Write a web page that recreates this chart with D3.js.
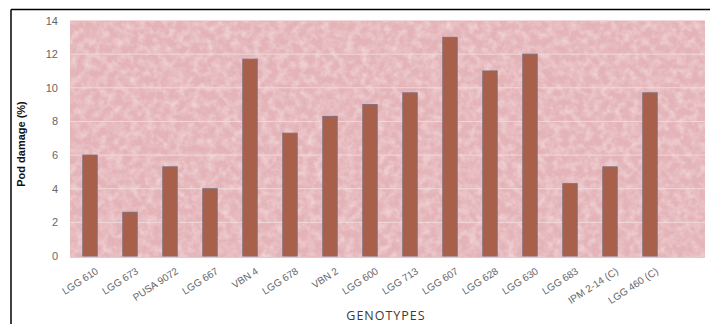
<!DOCTYPE html>
<html>
<head>
<meta charset="utf-8">
<script src="https://cdn.jsdelivr.net/npm/d3@7"></script>
<style>
  html, body { margin: 0; padding: 0; background: #fff; }
  svg { display: block; }
</style>
</head>
<body>
<div id="chart"></div>
<script>
// genotypes and pod damage values
const genotypes = ["LGG 610", "LGG 673", "PUSA 9072", "LGG 667", "VBN 4", "LGG 678", "VBN 2",
  "LGG 600", "LGG 713", "LGG 607", "LGG 628", "LGG 630", "LGG 683", "IPM 2-14 (C)", "LGG 460 (C)"];
const podDamage = [6.0, 2.6, 5.3, 4.0, 11.7, 7.3, 8.3, 9.0, 9.7, 13.0, 11.0, 12.0, 4.3, 5.3, 9.7];
const yTicks = [0, 2, 4, 6, 8, 10, 12, 14];

const W = 710, H = 324;
const plot = { left: 70, right: 705, top: 20, bottom: 257 };

const svg = d3.select("#chart").append("svg")
  .attr("width", W).attr("height", H);

// paper-like texture for the plot area: soft light mottling and fine darker specks
const defs = svg.append("defs");
const lite = defs.append("filter").attr("id", "lite")
  .attr("x", 0).attr("y", 0).attr("width", 1).attr("height", 1);
lite.append("feTurbulence").attr("type", "fractalNoise")
  .attr("baseFrequency", "0.13").attr("numOctaves", 3).attr("seed", 7).attr("result", "n");
lite.append("feColorMatrix").attr("in", "n").attr("type", "matrix")
  .attr("values", "0 0 0 0 0.97  0 0 0 0 0.86  0 0 0 0 0.87  1.1 0 0 0 -0.42").attr("result", "c");
lite.append("feComposite").attr("in", "c").attr("in2", "SourceGraphic").attr("operator", "in");

const dark = defs.append("filter").attr("id", "dark")
  .attr("x", 0).attr("y", 0).attr("width", 1).attr("height", 1);
dark.append("feTurbulence").attr("type", "fractalNoise")
  .attr("baseFrequency", "0.22").attr("numOctaves", 2).attr("seed", 3).attr("result", "n");
dark.append("feColorMatrix").attr("in", "n").attr("type", "matrix")
  .attr("values", "0 0 0 0 0.78  0 0 0 0 0.58  0 0 0 0 0.62  0 1.0 0 0 -0.5").attr("result", "c");
dark.append("feComposite").attr("in", "c").attr("in2", "SourceGraphic").attr("operator", "in");

// outer frame (top and left edges only)
svg.append("line").attr("x1", 11).attr("x2", W).attr("y1", 9.5).attr("y2", 9.5)
  .attr("stroke", "#000").attr("stroke-width", 1.5);
svg.append("line").attr("x1", 11).attr("x2", 11).attr("y1", 9.5).attr("y2", H)
  .attr("stroke", "#000").attr("stroke-width", 1.5);

// plot background
const bg = svg.append("g");
["none", "url(#lite)", "url(#dark)"].forEach(flt => {
  bg.append("rect")
    .attr("x", plot.left).attr("y", plot.top)
    .attr("width", plot.right - plot.left).attr("height", plot.bottom - plot.top)
    .attr("fill", flt === "none" ? "#e4b3b7" : "#fff")
    .attr("filter", flt === "none" ? null : flt);
});

const x = d3.scaleBand().domain(genotypes)
  .range([plot.left, plot.left + 40 * genotypes.length]).paddingInner(0.64).paddingOuter(0.32);
const y = d3.scaleLinear().domain([0, 14]).range([plot.bottom - 1, plot.top + 0.5]);

// gridlines
svg.append("g").selectAll("line").data(yTicks.slice(1)).enter().append("line")
  .attr("x1", plot.left).attr("x2", plot.right)
  .attr("y1", d => y(d)).attr("y2", d => y(d))
  .attr("stroke", "#f2d8da").attr("stroke-width", 1);
svg.append("line").attr("x1", plot.left).attr("x2", plot.right)
  .attr("y1", plot.bottom + 0.5).attr("y2", plot.bottom + 0.5)
  .attr("stroke", "#d9cfd3").attr("stroke-width", 1);

// y axis
const yAxis = svg.append("g")
  .attr("transform", `translate(${plot.left - 12},0)`)
  .call(d3.axisLeft(y).tickValues(yTicks).tickSize(0).tickPadding(0));
yAxis.select(".domain").remove();
yAxis.selectAll("text")
  .style("font-family", "'Liberation Sans', Arial, sans-serif")
  .style("font-size", "11px").attr("fill", "#666");

// bars
svg.append("g").selectAll("rect").data(genotypes).enter().append("rect")
  .attr("x", d => x(d))
  .attr("y", (d, i) => y(podDamage[i]))
  .attr("width", x.bandwidth())
  .attr("height", (d, i) => y(0) - y(podDamage[i]))
  .attr("fill", "#a8604a")
  .attr("stroke", "#7f6f7d").attr("stroke-width", 1);

// x axis labels
const xAxis = svg.append("g")
  .attr("transform", `translate(0,${plot.bottom})`)
  .call(d3.axisBottom(x).tickSize(0).tickPadding(0));
xAxis.select(".domain").remove();
xAxis.selectAll("text")
  .style("font-family", "'Liberation Sans', Arial, sans-serif")
  .style("font-size", "10px").attr("fill", "#666")
  .attr("text-anchor", "end")
  .attr("dy", null).attr("y", 0)
  .attr("transform", "translate(9,16) rotate(-33)");

// axis titles
svg.append("text")
  .attr("transform", `translate(25,144) rotate(-90)`)
  .attr("text-anchor", "middle")
  .style("font-family", "'Liberation Sans Narrow', 'Liberation Sans', sans-serif")
  .style("font-size", "11px").style("font-weight", "bold")
  .attr("fill", "#111").text("Pod damage (%)");

svg.append("text")
  .attr("x", 386).attr("y", 320)
  .attr("text-anchor", "middle")
  .style("font-family", "'Open Sans', sans-serif")
  .style("font-size", "12.5px").style("letter-spacing", "1px")
  .attr("fill", "#3a3a3a").text("GENOTYPES");
</script>
</body>
</html>
